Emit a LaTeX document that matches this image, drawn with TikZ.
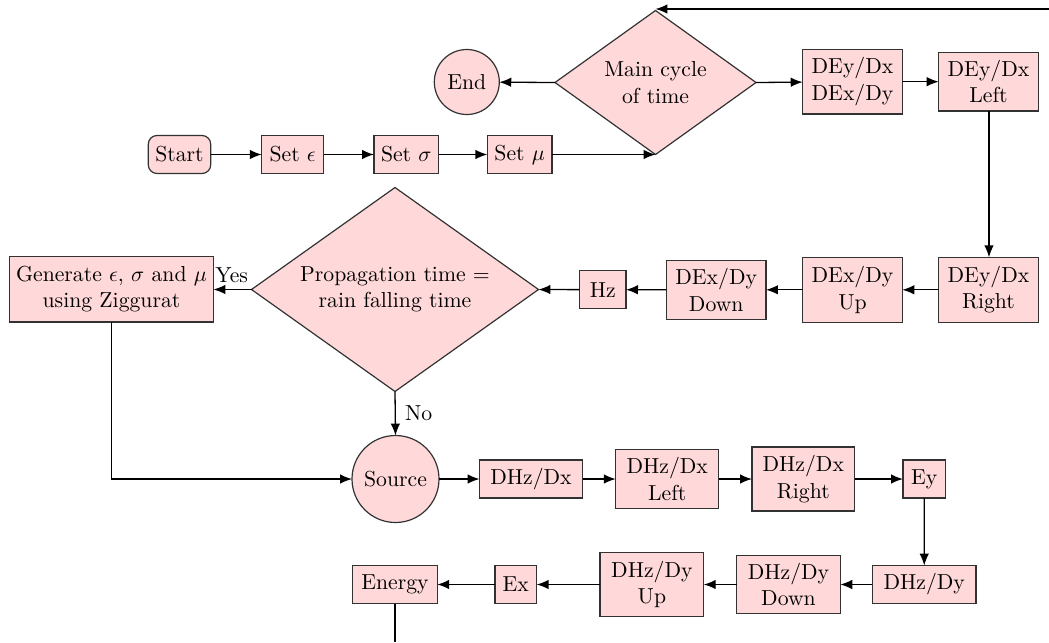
\documentclass[tikz,border=0pt]{standalone}
\usetikzlibrary{shapes.geometric,arrows.meta}
\definecolor{boxfill}{RGB}{255,217,218}
\definecolor{boxline}{RGB}{50,50,50}
\def\pxu{0.4608pt}
\tikzset{
  base/.style={draw=boxline, fill=boxfill, line width=0.55pt, outer sep=0pt,
               inner sep=3pt, align=center, font=\fontsize{10}{12.2}\selectfont},
  box/.style={base, rectangle, minimum height=38*\pxu},
  bw/.style={minimum width=#1*\pxu},
  bh/.style={minimum height=#1*\pxu},
  startbox/.style={base, rectangle, rounded corners=4pt, minimum height=38*\pxu},
  term/.style={base, circle},
  decision/.style={base, diamond, inner sep=0pt, shape aspect=1.4},
  flow/.style={line width=0.6pt, -{Latex[length=5.5pt,width=4.4pt]}},
  plain/.style={line width=0.6pt},
  lbl/.style={font=\fontsize{10}{12.2}\selectfont, inner sep=0pt}
}
\begin{document}
\begin{tikzpicture}[x=\pxu, y=-\pxu]
\useasboundingbox (0,0) rectangle (1049,642);

% initialisation row
\node[startbox, bw=62.4] (start)  at (179.5,154.5) {Start};
\node[box, bw=62]        (seteps) at (292.7,154.5) {Set $\epsilon$};
\node[box, bw=64.7]      (setsig) at (406.3,154.5) {Set $\sigma$};
\node[box, bw=64.7]      (setmu)  at (519.7,154.5) {Set $\mu$};

% main time loop
\node[decision, minimum width=201*\pxu, minimum height=144*\pxu] (main) at (655.5,82.5) {Main cycle\\of time};
\node[term, minimum size=65*\pxu] (end) at (466.8,82) {End};
\node[box, bw=99.7, bh=64.7] (b1) at (852.5,81.7) {DEy/Dx\\DEx/Dy};
\node[box, bw=99.7, bh=58.7] (b2) at (988.5,81.7) {DEy/Dx\\Left};

% E-field updates
\node[box, bw=99.7, bh=65] (b3) at (988.5,289.8) {DEy/Dx\\Right};
\node[box, bw=99.7, bh=65] (b4) at (852.5,289.8) {DEx/Dy\\Up};
\node[box, bw=99.6, bh=58.7] (b5) at (716.2,289.8) {DEx/Dy\\Down};
\node[box, bw=46.7] (hz) at (602.7,289.7) {Hz};

% rain check
\node[decision, minimum width=287*\pxu, minimum height=204*\pxu] (prop) at (395,289.5) {Propagation time =\\rain falling time};
\node[box, bw=201.7, bh=65.3] (gen) at (111.5,289.3) {Generate $\epsilon$, $\sigma$ and $\mu$\\using Ziggurat};

% H-field updates
\node[term, minimum size=87*\pxu] (source) at (395.5,479) {Source};
\node[box, bw=103] (c1) at (531,479) {DHz/Dx};
\node[box, bw=103, bh=59] (c2) at (667.2,479) {DHz/Dx\\Left};
\node[box, bw=102.7, bh=64] (c3) at (803.3,479) {DHz/Dx\\Right};
\node[box, bw=42.7] (ey) at (924.3,479) {Ey};

\node[box, bw=103.7] (d1) at (924.2,584.5) {DHz/Dy};
\node[box, bw=103.6, bh=58.7] (d2) at (788.5,584.5) {DHz/Dy\\Down};
\node[box, bw=103.7, bh=64] (d3) at (651.9,584.5) {DHz/Dy\\Up};
\node[box, bw=41.7] (ex) at (515.8,584.5) {Ex};
\node[box, bw=84.6] (energy) at (395,584.5) {Energy};

% loop ends running off the page
\coordinate (loopin)  at (1049,9);
\coordinate (loopout) at (395,642);

% connectors
\draw[flow] (start) -- (seteps);
\draw[flow] (seteps) -- (setsig);
\draw[flow] (setsig) -- (setmu);
\draw[flow] (setmu.east) -- (setmu.east -| main.south);
\draw[flow] (loopin) -- (loopin -| main.north);
\draw[flow] (main.west) -- (end);
\draw[flow] (main.east) -- (b1);
\draw[flow] (b1) -- (b2);
\draw[flow] (b2.south -| 989,0) -- (b3.north -| 989,0);
\draw[flow] (b3) -- (b4);
\draw[flow] (b4) -- (b5);
\draw[flow] (b5) -- (hz);
\draw[flow] (hz) -- (prop.east);
\draw[flow] (prop.west) -- (gen.east |- prop.west);
\draw[flow] (prop.south) -- (source.north);
\draw[flow] (gen.south) |- (source.west);
\draw[flow] (source) -- (c1);
\draw[flow] (c1) -- (c2);
\draw[flow] (c2) -- (c3);
\draw[flow] (c3) -- (ey);
\draw[flow] (ey) -- (d1);
\draw[flow] (d1) -- (d2);
\draw[flow] (d2) -- (d3);
\draw[flow] (d3) -- (ex);
\draw[flow] (ex) -- (energy);
\draw[plain] (energy.south) -- (loopout);

% branch labels
\node[lbl] (yes) at (231.7,275) {Yes};
\node[lbl] (no)  at (418.7,413.5) {No};
\end{tikzpicture}
\end{document}
